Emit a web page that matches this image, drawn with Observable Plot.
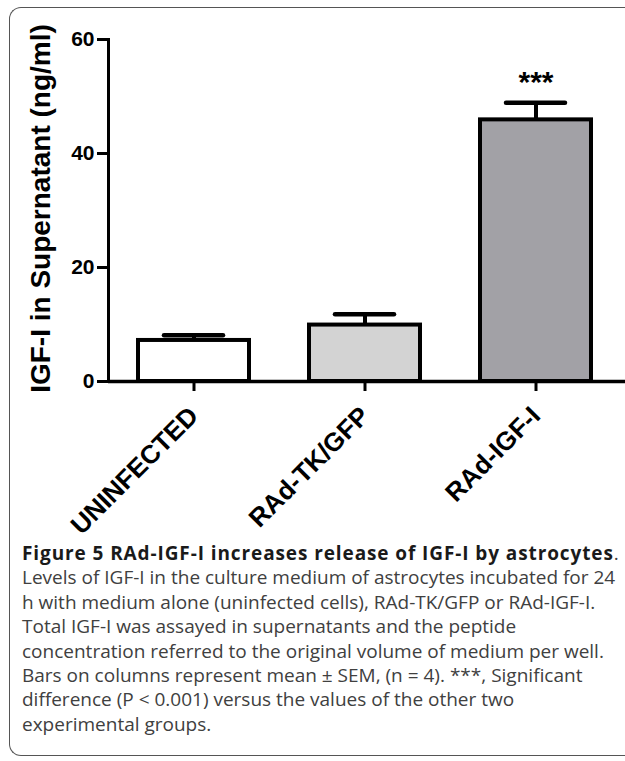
<!DOCTYPE html>
<html>
<head>
<meta charset="utf-8">
<script src="https://cdn.jsdelivr.net/npm/d3@7"></script>
<script src="https://cdn.jsdelivr.net/npm/@observablehq/plot@0.6"></script>
<style>
  html, body { margin: 0; padding: 0; background: #fff; width: 625px; height: 761px; overflow: hidden; }
  #frame {
    position: absolute; left: 9px; top: 7px; width: 700px; height: 749px;
    border-left: 1.5px solid #555; border-top: 1.5px solid #555; border-bottom: 1.5px solid #555;
    border-radius: 12px 0 0 12px; box-sizing: border-box;
  }
  #chart { position: absolute; left: 0; top: 0; }
  #caption {
    position: absolute; left: 22px; top: 541px; width: 610px;
    font-family: "Open Sans", sans-serif; font-size: 19px; line-height: 24.4px;
    color: #404040; white-space: nowrap;
  }
  #caption b { color: #1a1a1a; font-weight: 700; letter-spacing: 0.9px; }
</style>
</head>
<body>
<div id="frame"></div>
<div id="chart"></div>
<div id="caption">
<b>Figure 5 RAd-IGF-I increases release of IGF-I by astrocytes</b>.<br>
Levels of IGF-I in the culture medium of astrocytes incubated for 24<br>
h with medium alone (uninfected cells), RAd-TK/GFP or RAd-IGF-I.<br>
Total IGF-I was assayed in supernatants and the peptide<br>
concentration referred to the original volume of medium per well.<br>
Bars on columns represent mean ± SEM, (n = 4). ***, Significant<br>
difference (P &lt; 0.001) versus the values of the other two<br>
experimental groups.
</div>
<script>
const groups = ["UNINFECTED", "RAd-TK/GFP", "RAd-IGF-I"];
const means = [7.2, 9.9, 45.9];
const upper = [8.1, 11.8, 48.9];
const significance = ["", "", "***"];
const yTicks = [0, 20, 40, 60];
const yLabel = "IGF-I in Supernatant (ng/ml)";

const fills = ["#ffffff", "#d3d3d3", "#a2a1a6"];

const data = groups.map((g, i) => ({group: g, mean: means[i], upper: upper[i], sig: significance[i], fill: fills[i]}));

const font = "'Liberation Sans', Arial, Helvetica, sans-serif";

const chart = Plot.plot({
  width: 625,
  height: 545,
  marginLeft: 108,
  marginRight: 0,
  marginTop: 39,
  marginBottom: 164,
  style: {fontFamily: font, color: "#000", background: "transparent", overflow: "visible"},
  x: {domain: groups, paddingInner: 0.351, paddingOuter: 0.187, align: 0.461, label: null},
  y: {domain: [0, 60], label: null},
  color: {type: "identity"},
  marks: [
    Plot.barY(data, {x: "group", y: "mean", fill: "fill", stroke: "#000", strokeWidth: 4}),
    Plot.ruleX(data, {x: "group", y1: "mean", y2: "upper", stroke: "#000", strokeWidth: 4}),
    Plot.tickY(data, {x: "group", y: "upper", stroke: "#000", strokeWidth: 4.5, insetLeft: 26, insetRight: 26, strokeLinecap: "round"}),
    Plot.text(data.filter(d => d.sig), {x: "group", y: "upper", text: "sig", dy: -20, fontSize: 30, fontWeight: "bold", fill: "#000"}),
    Plot.ruleY([0], {stroke: "#000", strokeWidth: 3.5}),
    Plot.frame({anchor: "left", stroke: "#000", strokeWidth: 3}),
    Plot.axisY({ticks: yTicks, tickSize: 11, tickPadding: 3, fontSize: 21, fontWeight: "bold", strokeWidth: 3, label: null, tickFormat: d => d}),
    Plot.axisX({tickSize: 10, strokeWidth: 3, tickFormat: () => "", label: null}),
    Plot.axisX({tickSize: 0, tickRotate: -45, tickPadding: 30, dx: 0, fontSize: 26, fontWeight: "bold", label: null}),
    Plot.text([yLabel], {frameAnchor: "left", textAnchor: "middle", rotate: -90, dx: -67, dy: -2, fontSize: 28, fontWeight: "bold", fill: "#000"})
  ]
});
document.getElementById("chart").appendChild(chart);
</script>
</body>
</html>
